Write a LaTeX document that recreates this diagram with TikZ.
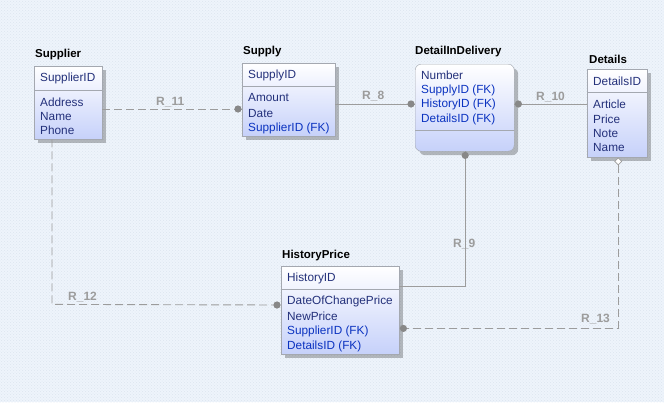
\documentclass[tikz,border=0pt]{standalone}
\usepackage{fontspec}
\setmainfont{Liberation Sans}
\usetikzlibrary{shadows,calc,patterns}
\definecolor{bgc}{HTML}{EEF4FB}
\definecolor{bgdot}{HTML}{DCE5F0}
\definecolor{boxblue}{HTML}{C6D1FA}
\definecolor{boxline}{HTML}{A4A8B0}
\definecolor{attr}{HTML}{23307A}
\definecolor{fk}{HTML}{0A32C0}
\definecolor{relc}{HTML}{9C9C9C}
\definecolor{dotc}{HTML}{888888}
\tikzset{
  ent/.style={draw=boxline, top color=white, bottom color=boxblue, anchor=north west, inner sep=0pt,
    drop shadow={shadow xshift=4pt, shadow yshift=-4pt, fill=black, opacity=0.25}},
  sep/.style={draw=boxline},
  ttl/.style={anchor=west, inner sep=0pt, font=\fontsize{11.5}{13}\selectfont\bfseries, text=black},
  att/.style={anchor=west, inner sep=0pt, font=\fontsize{11.8}{13}\selectfont, text=attr},
  fkatt/.style={anchor=west, inner sep=0pt, font=\fontsize{11.8}{13}\selectfont, text=fk},
  rlab/.style={anchor=west, inner sep=0pt, font=\fontsize{12}{13}\selectfont\bfseries, text=relc},
  rel/.style={draw=relc, line width=0.9pt},
  drel/.style={draw=relc, line width=0.9pt, dash pattern=on 8pt off 4pt},
  dotend/.style={fill=dotc, draw=none},
}
\begin{document}
\begin{tikzpicture}[x=1pt,y=-1pt]
\useasboundingbox (0,0) rectangle (664,402);
\fill[bgc] (0,0) rectangle (664,402);
\fill[pattern=crosshatch dots, pattern color=bgdot] (0,0) rectangle (664,402);

% Entities
\node[ent, minimum width=68pt, minimum height=73pt] (supplier) at (34,66) {};
\node[ent, minimum width=93pt, minimum height=73pt] (supply) at (242,63) {};
\node[ent, rounded corners=6pt, minimum width=99pt, minimum height=87pt] (dii) at (415,64) {};
\node[ent, minimum width=60pt, minimum height=88pt] (details) at (587,69) {};
\node[ent, minimum width=118pt, minimum height=88pt] (history) at (281,266) {};

% separators
\draw[sep] ($(supplier.north west)+(0,24)$) -- ($(supplier.north east)+(0,24)$);
\draw[sep] ($(supply.north west)+(0,23)$) -- ($(supply.north east)+(0,23)$);
\draw[sep] ($(dii.north west)+(0,66)$) -- ($(dii.north east)+(0,66)$);
\draw[sep] ($(details.north west)+(0,23)$) -- ($(details.north east)+(0,23)$);
\draw[sep] ($(history.north west)+(0,23)$) -- ($(history.north east)+(0,23)$);

% titles
\node[ttl] (tsupplier) at (35,55) {Supplier};
\node[ttl] (tsupply) at (243,52) {Supply};
\node[ttl] (tdii) at (415,52) {DetailInDelivery};
\node[ttl] (tdetails) at (589,59) {Details};
\node[ttl] (thistory) at (282,256) {HistoryPrice};

% Supplier attributes
\node[att] (a1) at (40,78) {SupplierID};
\node[att] (a2) at (40,102) {Address};
\node[att] (a3) at (40,116) {Name};
\node[att] (a4) at (40,130) {Phone};
% Supply
\node[att] (b1) at (248,75) {SupplyID};
\node[att] (b2) at (248,97) {Amount};
\node[att] (b3) at (248,113) {Date};
\node[fkatt] (b4) at (248,128) {SupplierID (FK)};
% DetailInDelivery
\node[att] (c1) at (421,75) {Number};
\node[fkatt] (c2) at (421,90) {SupplyID (FK)};
\node[fkatt] (c3) at (421,104) {HistoryID (FK)};
\node[fkatt] (c4) at (421,119) {DetailsID (FK)};
% Details
\node[att] (d1) at (593,81) {DetailsID};
\node[att] (d2) at (593,104) {Article};
\node[att] (d3) at (593,119) {Price};
\node[att] (d4) at (593,133) {Note};
\node[att] (d5) at (593,147) {Name};
% HistoryPrice
\node[att] (e1) at (287,278) {HistoryID};
\node[att] (e2) at (287,301) {DateOfChangePrice};
\node[att] (e3) at (287,316) {NewPrice};
\node[fkatt] (e4) at (287,331) {SupplierID (FK)};
\node[fkatt] (e5) at (287,346) {DetailsID (FK)};

% Relations
% R_11
\draw[drel] ($(supplier.north east)+(0,43)$) -- ($(supply.north west)+(0,46)$);
\fill[dotend] ($(supply.north west)+(-4,46)$) circle (3.6);
\node[rlab] (r11) at (156,102) {R\_11};
% R_8
\draw[rel] ($(supply.north east)+(0,41)$) -- ($(dii.north west)+(0,40)$);
\fill[dotend] ($(dii.north west)+(-4,40)$) circle (3.6);
\node[rlab] (r8) at (362,96) {R\_8};
% R_10
\draw[rel] ($(details.north west)+(0,35)$) -- ($(dii.north east)+(0,40)$);
\fill[dotend] ($(dii.north east)+(4,40)$) circle (3.6);
\node[rlab] (r10) at (536,97) {R\_10};
% R_9
\coordinate (k9) at ($(dii.south)+(0.5,135)$);
\draw[rel] (dii.south) ++(0.5,0) -- (k9) -- (history.north east |- k9);
\fill[dotend] ($(dii.south)+(0.5,4)$) circle (3.6);
\node[rlab] (r9) at (453,244) {R\_9};
% R_13
\coordinate (k13) at ($(details.south)+(1,171)$);
\draw[drel] ($(details.south)+(1,8)$) -- (k13) -- ($(history.north east |- k13)+(5,0)$);
\draw[relc, fill=white, line width=0.7pt] ($(details.south)+(1,0.5)$) -- ++(3.5,3.5) -- ++(-3.5,3.5) -- ++(-3.5,-3.5) -- cycle;
\fill[dotend] ($(history.north east |- k13)+(4,0)$) circle (3.6);
\node[rlab] (r13) at (581,319) {R\_13};
% R_12
\coordinate (k12) at ($(supplier.south west)+(18,165)$);
\draw[drel] ($(supplier.south west)+(18,0)$) -- (k12) -- ($(history.north west)+(-5,39)$);
\fill[dotend] ($(history.north west)+(-4,39)$) circle (3.6);
\node[rlab] (r12) at (68,297) {R\_12};
\end{tikzpicture}
\end{document}
